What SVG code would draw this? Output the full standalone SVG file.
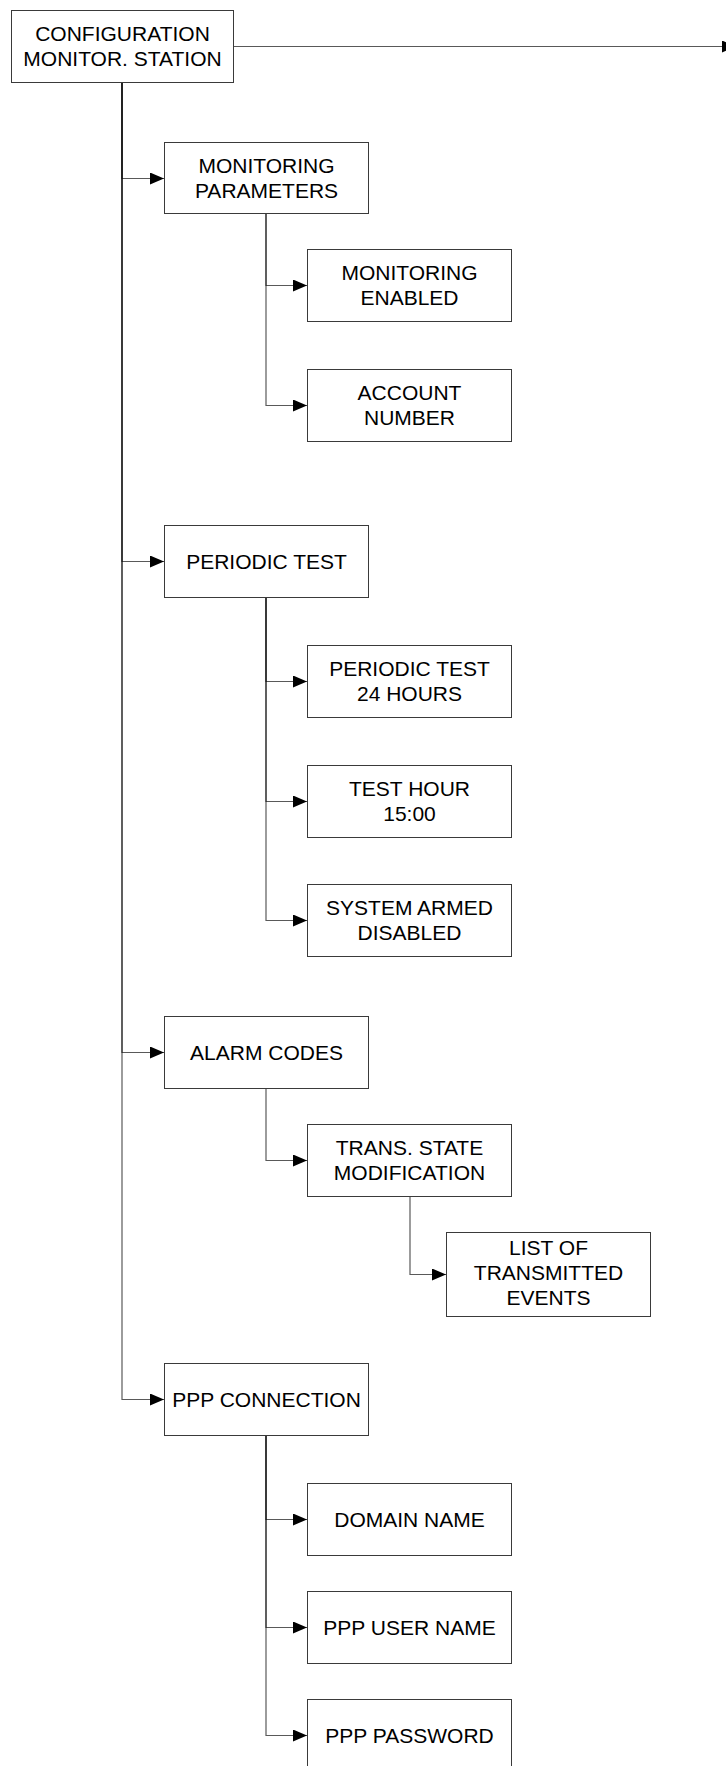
<svg xmlns="http://www.w3.org/2000/svg" width="726" height="1766" viewBox="0 0 726 1766">
<style>
.box{fill:#fff;stroke:#3a3a3a;stroke-width:1}
.t{font-family:"Liberation Sans",Arial,sans-serif;font-size:21px;fill:#000;text-anchor:middle}
.c{fill:none;stroke:#000;stroke-opacity:0.65;stroke-width:1.2;marker-end:url(#ah)}
</style>
<defs>
<marker id="ah" viewBox="0 0 14 12" refX="14" refY="6" markerWidth="14" markerHeight="12" markerUnits="userSpaceOnUse" orient="auto">
<path d="M0,0 L14,6 L0,12 Z" fill="#000"/>
</marker>
</defs>
<rect width="726" height="1766" fill="#fff"/>
<g id="connectors">
<path class="c" d="M233,46.5 H736"/>
<path class="c" d="M122,82 V178.5 H164"/>
<path class="c" d="M122,82 V561.5 H164"/>
<path class="c" d="M122,82 V1052.5 H164"/>
<path class="c" d="M122,82 V1399.5 H164"/>
<path class="c" d="M266,213 V285.5 H307"/>
<path class="c" d="M266,213 V405.5 H307"/>
<path class="c" d="M266,597 V681.5 H307"/>
<path class="c" d="M266,597 V801.5 H307"/>
<path class="c" d="M266,597 V920.5 H307"/>
<path class="c" d="M266,1088 V1160.5 H307"/>
<path class="c" d="M410,1196 V1274.5 H446"/>
<path class="c" d="M266,1435 V1519.5 H307"/>
<path class="c" d="M266,1435 V1627.5 H307"/>
<path class="c" d="M266,1435 V1735.5 H307"/>
</g>
<g id="root"><rect class="box" x="11.5" y="10.5" width="222" height="72"/><text class="t"><tspan x="122.5" y="41">CONFIGURATION</tspan><tspan x="122.5" y="66">MONITOR. STATION</tspan></text></g>
<g id="monitoring-parameters"><rect class="box" x="164.5" y="142.5" width="204" height="71"/><text class="t"><tspan x="266.5" y="173">MONITORING</tspan><tspan x="266.5" y="198">PARAMETERS</tspan></text></g>
<g id="monitoring-enabled"><rect class="box" x="307.5" y="249.5" width="204" height="72"/><text class="t"><tspan x="409.5" y="280">MONITORING</tspan><tspan x="409.5" y="305">ENABLED</tspan></text></g>
<g id="account-number"><rect class="box" x="307.5" y="369.5" width="204" height="72"/><text class="t"><tspan x="409.5" y="400">ACCOUNT</tspan><tspan x="409.5" y="425">NUMBER</tspan></text></g>
<g id="periodic-test"><rect class="box" x="164.5" y="525.5" width="204" height="72"/><text class="t" x="266.5" y="569">PERIODIC TEST</text></g>
<g id="periodic-test-24"><rect class="box" x="307.5" y="645.5" width="204" height="72"/><text class="t"><tspan x="409.5" y="676">PERIODIC TEST</tspan><tspan x="409.5" y="701">24 HOURS</tspan></text></g>
<g id="test-hour"><rect class="box" x="307.5" y="765.5" width="204" height="72"/><text class="t"><tspan x="409.5" y="796">TEST HOUR</tspan><tspan x="409.5" y="821">15:00</tspan></text></g>
<g id="system-armed"><rect class="box" x="307.5" y="884.5" width="204" height="72"/><text class="t"><tspan x="409.5" y="915">SYSTEM ARMED</tspan><tspan x="409.5" y="940">DISABLED</tspan></text></g>
<g id="alarm-codes"><rect class="box" x="164.5" y="1016.5" width="204" height="72"/><text class="t" x="266.5" y="1060">ALARM CODES</text></g>
<g id="trans-state"><rect class="box" x="307.5" y="1124.5" width="204" height="72"/><text class="t"><tspan x="409.5" y="1155">TRANS. STATE</tspan><tspan x="409.5" y="1180">MODIFICATION</tspan></text></g>
<g id="list-events"><rect class="box" x="446.5" y="1232.5" width="204" height="84"/><text class="t"><tspan x="548.5" y="1255">LIST OF</tspan><tspan x="548.5" y="1280">TRANSMITTED</tspan><tspan x="548.5" y="1305">EVENTS</tspan></text></g>
<g id="ppp-connection"><rect class="box" x="164.5" y="1363.5" width="204" height="72"/><text class="t" x="266.5" y="1407">PPP CONNECTION</text></g>
<g id="domain-name"><rect class="box" x="307.5" y="1483.5" width="204" height="72"/><text class="t" x="409.5" y="1527">DOMAIN NAME</text></g>
<g id="ppp-user-name"><rect class="box" x="307.5" y="1591.5" width="204" height="72"/><text class="t" x="409.5" y="1635">PPP USER NAME</text></g>
<g id="ppp-password"><rect class="box" x="307.5" y="1699.5" width="204" height="72"/><text class="t" x="409.5" y="1743">PPP PASSWORD</text></g>
</svg>
